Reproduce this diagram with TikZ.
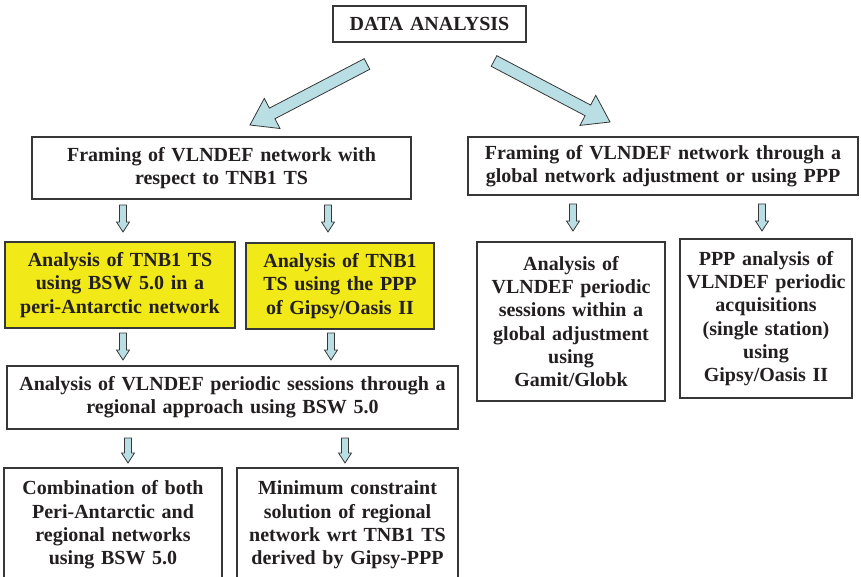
\documentclass[tikz,border=0pt]{standalone}
\usepackage{fontspec}
\setmainfont{Liberation Serif}
\usepackage{tikz}
\usetikzlibrary{calc}
\definecolor{ink}{RGB}{35,31,32}
\definecolor{boxline}{RGB}{55,55,55}
\definecolor{myyellow}{RGB}{242,233,24}
\definecolor{arrblue}{RGB}{185,222,228}
\tikzstyle{box}      = [rectangle, draw=boxline, line width=1.1pt, inner sep=0pt, align=center,
                        text=ink, font=\bfseries\fontsize{20}{23.3}\selectfont]
\tikzstyle{hl}       = [box, fill=myyellow]
\tikzstyle{blockarr} = [draw=boxline, line width=0.8pt, fill=arrblue, line join=miter]
% hollow block arrow: tail, tip, half shaft, half head, head length
\newcommand{\blockarrow}[5]{%
  \draw[blockarr] ($(#1)!#3!90:(#2)$) -- ($(#2)!#5!(#1)!#3!90:(#2)$)
    -- ($(#2)!#5!(#1)!#4!90:(#2)$) -- (#2) -- ($(#2)!#5!(#1)!#4!-90:(#2)$)
    -- ($(#2)!#5!(#1)!#3!-90:(#2)$) -- ($(#1)!#3!-90:(#2)$) -- cycle;}

\begin{document}
\begin{tikzpicture}[x=1pt, y=-1pt]
    \useasboundingbox (0,0) rectangle (861,577);

    \node[box, text width=193pt, minimum height=36pt] (da) at (429.5,24) {DATA ANALYSIS};

    \node[box, text width=379pt, minimum height=62pt] (frL) at (221.5,168)
      {Framing of VLNDEF network with\\respect to TNB1 TS};
    \node[box, text width=390pt, minimum height=58pt] (frR) at (663,166)
      {Framing of VLNDEF network through a\\global network adjustment or using PPP};

    \node[hl, text width=230pt, minimum height=86pt] (bsw) at (120,285)
      {Analysis of TNB1 TS\\using BSW 5.0 in a\\peri-Antarctic network};
    \node[hl, text width=188pt, minimum height=86pt] (gip) at (340,286)
      {Analysis of TNB1\\TS using the PPP\\of Gipsy/Oasis II};

    \node[box, text width=451pt, minimum height=63pt] (reg) at (232.5,397.5)
      {Analysis of VLNDEF periodic sessions through a\\regional approach using BSW 5.0};

    \node[box, text width=218pt, minimum height=114pt] (comb) at (113,525)
      {Combination of both\\Peri-Antarctic and\\regional networks\\using BSW 5.0};
    \node[box, text width=221pt, minimum height=114pt] (minc) at (347.5,525)
      {Minimum constraint\\solution of regional\\network wrt TNB1 TS\\derived by Gipsy-PPP};

    \node[box, text width=188pt, minimum height=159pt] (gam) at (571,321.5)
      {Analysis of\\VLNDEF periodic\\sessions within a\\global adjustment\\using\\Gamit/Globk};
    \node[box, text width=172pt, minimum height=159pt] (ppp) at (766,318.5)
      {PPP analysis of\\VLNDEF periodic\\acquisitions\\(single station)\\using\\Gipsy/Oasis II};

    % big arrows out of the top box
    \coordinate (daL) at (367,64);  \coordinate (frLt) at (250,125);
    \coordinate (daR) at (494,61);  \coordinate (frRt) at (610,122);
    \blockarrow{daL}{frLt}{6pt}{17pt}{25pt}
    \blockarrow{daR}{frRt}{6pt}{17pt}{25pt}

    % small arrows
    \coordinate (s1) at (123,205);  \coordinate (e1) at (123,232);
    \coordinate (s2) at (328,205);  \coordinate (e2) at (328,232);
    \coordinate (s3) at (123,333);  \coordinate (e3) at (123,360);
    \coordinate (s4) at (331,333);  \coordinate (e4) at (331,360);
    \coordinate (s5) at (128,438);  \coordinate (e5) at (128,463);
    \coordinate (s6) at (345,438);  \coordinate (e6) at (345,463);
    \coordinate (s7) at (573,204);  \coordinate (e7) at (573,231);
    \coordinate (s8) at (762,204);  \coordinate (e8) at (762,231);
    \foreach \n in {1,...,8}
      {\blockarrow{s\n}{e\n}{3.5pt}{6.5pt}{10pt}}
\end{tikzpicture}
\end{document}
